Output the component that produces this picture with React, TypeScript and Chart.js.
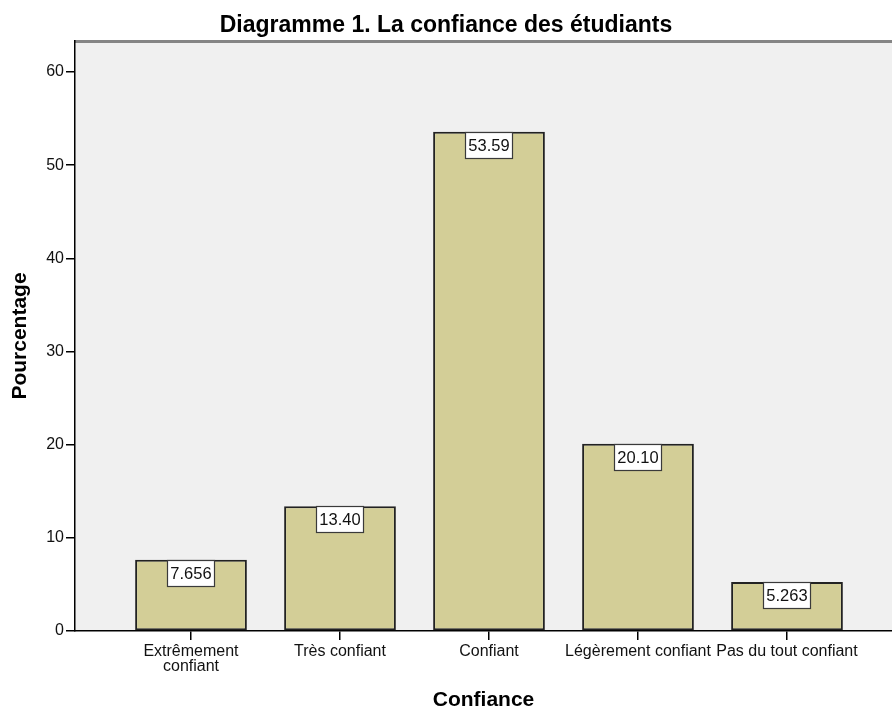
import React, { useEffect, useRef } from 'react';
import { Chart, registerables } from 'chart.js';

Chart.register(...registerables);

const categories: (string | string[])[] = [
  ['Extrêmement', 'confiant'],
  'Très confiant',
  'Confiant',
  'Légèrement confiant',
  'Pas du tout confiant',
];
const positions = [0, 1, 2, 3, 4];
const percentages = [7.656, 13.4, 53.59, 20.1, 5.263];
const yTickValues = [0, 10, 20, 30, 40, 50, 60];

const TITLE = 'Diagramme 1. La confiance des étudiants';
const X_TITLE = 'Confiance';
const Y_TITLE = 'Pourcentage';

const FONT = "'Liberation Sans', Arial, sans-serif";

const bgPlugin = {
  id: 'plotBg',
  beforeDraw(chart: any) {
    const { ctx, chartArea: a } = chart;
    ctx.save();
    ctx.fillStyle = '#f0f0f0';
    ctx.fillRect(a.left, a.top, a.right - a.left, a.bottom - a.top);
    ctx.strokeStyle = '#858585';
    ctx.lineWidth = 3;
    ctx.beginPath();
    ctx.moveTo(a.left, a.top + 0.5);
    ctx.lineTo(a.right, a.top + 0.5);
    ctx.stroke();
    ctx.restore();
  },
};

const valuePlugin = {
  id: 'valueBoxes',
  afterDatasetsDraw(chart: any) {
    const { ctx } = chart;
    const meta = chart.getDatasetMeta(0);
    ctx.save();
    ctx.font = `16.5px ${FONT}`;
    ctx.textAlign = 'center';
    ctx.textBaseline = 'middle';
    meta.data.forEach((bar: any, i: number) => {
      const text = percentages[i].toPrecision(4);
      const w = Math.round(ctx.measureText(text).width + 6);
      const h = 26;
      const x = Math.round(bar.x - w / 2);
      const y = Math.round(bar.y);
      ctx.fillStyle = '#ffffff';
      ctx.fillRect(x, y, w, h);
      ctx.strokeStyle = '#3a3a3a';
      ctx.lineWidth = 1.2;
      ctx.strokeRect(x + 0.5, y + 0.5, w, h);
      ctx.fillStyle = '#111';
      ctx.fillText(text, bar.x, y + h / 2 + 1);
    });
    ctx.restore();
  },
};

export default function App() {
  const ref = useRef<HTMLCanvasElement | null>(null);

  useEffect(() => {
    if (!ref.current) return;
    const chart = new Chart(ref.current, {
      type: 'bar',
      data: {
        datasets: [
          {
            data: positions.map((p, i) => ({ x: p, y: percentages[i] })),
            backgroundColor: '#d3ce97',
            borderColor: '#222222',
            borderWidth: 2,
            borderSkipped: false,
            barPercentage: 0.75,
            categoryPercentage: 1,
          },
        ],
      },
      options: {
        animation: false,
        responsive: false,
        devicePixelRatio: 1,
        font: { family: FONT },
        layout: { padding: 0 },
        plugins: {
          legend: { display: false },
          tooltip: { enabled: false },
          title: {
            display: true,
            text: TITLE,
            color: '#000',
            font: { family: FONT, size: 23, weight: 'bold', lineHeight: 1.2 },
            padding: { top: 11.7, bottom: 1.7 },
          },
        },
        scales: {
          x: {
            type: 'linear',
            offset: false,
            min: -0.7785,
            max: 4.7047,
            afterBuildTicks: (s: any) => {
              s.ticks = positions.map((v) => ({ value: v }));
            },
            afterFit: (s: any) => {
              s.height = 80;
            },
            ticks: {
              autoSkip: false,
              maxRotation: 0,
              minRotation: 0,
              padding: 4,
              color: '#111',
              font: { family: FONT, size: 16, lineHeight: 0.95 },
              callback: (v: any) => categories[Math.round(Number(v))] as any,
            },
            grid: {
              offset: false,
              drawOnChartArea: false,
              drawTicks: true,
              tickLength: 9,
              color: '#000',
              lineWidth: 1.5,
            },
            border: { display: true, color: '#000', width: 1.5 },
            title: {
              display: true,
              text: X_TITLE,
              color: '#000',
              font: { family: FONT, size: 21, weight: 'bold', lineHeight: 1 },
              padding: { top: 0, bottom: 0.5 },
            },
          },
          y: {
            min: 0,
            max: 63.33,
            afterBuildTicks: (s: any) => {
              s.ticks = yTickValues.map((v) => ({ value: v }));
            },
            afterFit: (s: any) => {
              s.width = 75;
            },
            ticks: {
              padding: 2,
              color: '#111',
              font: { family: FONT, size: 16 },
            },
            grid: {
              drawOnChartArea: false,
              drawTicks: true,
              tickLength: 9,
              color: '#000',
              lineWidth: 1.5,
            },
            border: { display: true, color: '#000', width: 1.5 },
            title: {
              display: true,
              text: Y_TITLE,
              color: '#000',
              font: { family: FONT, size: 21, weight: 'bold', lineHeight: 1 },
              padding: { top: 10, bottom: 0 },
            },
          },
        },
      } as any,
      plugins: [bgPlugin, valuePlugin],
    });
    return () => chart.destroy();
  }, []);

  return (
    <div style={{ position: 'fixed', left: 0, top: 0, width: 892, height: 711, background: '#fff' }}>
      <canvas ref={ref} width={892} height={711} style={{ display: 'block' }} />
    </div>
  );
}
